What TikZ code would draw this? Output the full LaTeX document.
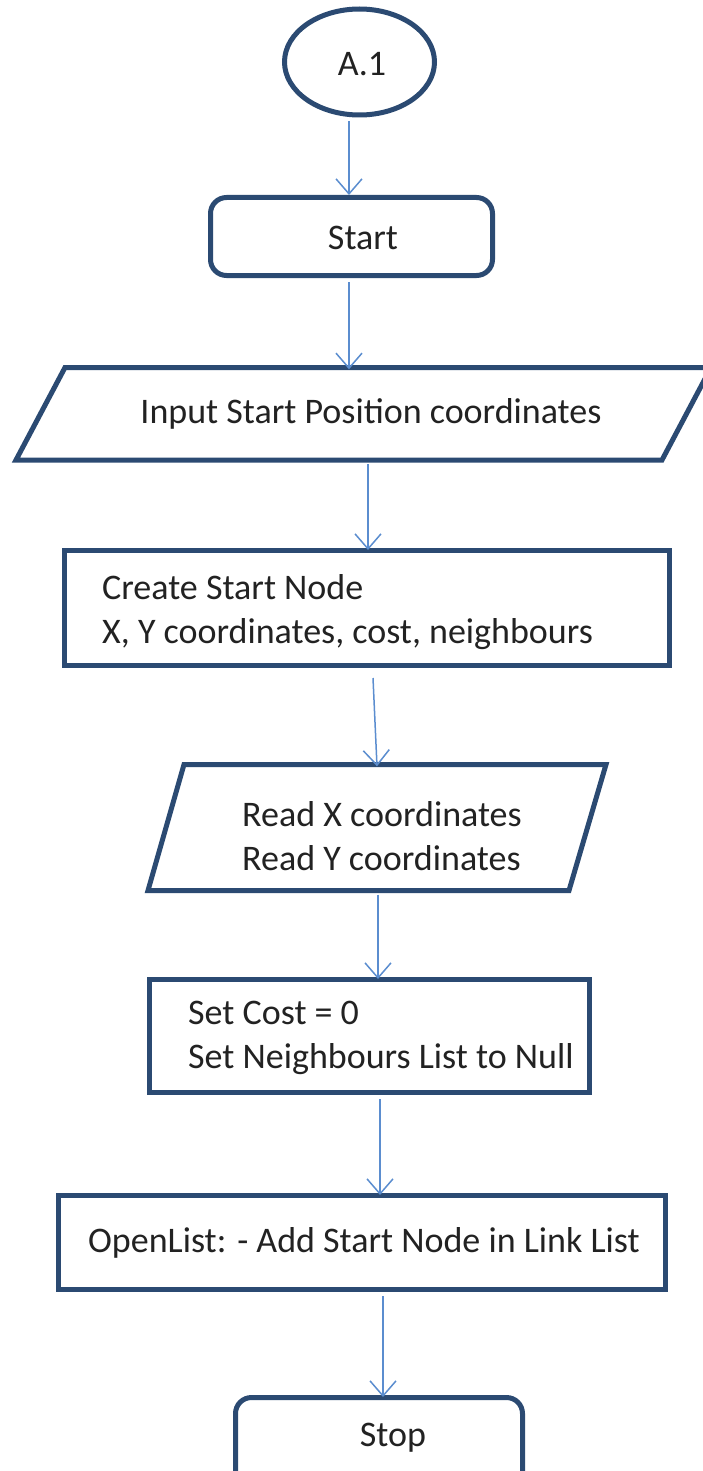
\documentclass[tikz,border=0pt]{standalone}
\usepackage{fontspec}
\setmainfont{Carlito}
\usetikzlibrary{arrows.meta,shapes.geometric}
\definecolor{navy}{HTML}{2B4A72}
\definecolor{arrowblue}{HTML}{5B8DCF}
\definecolor{txt}{HTML}{222222}
\tikzset{
  shapeline/.style={draw=navy, line width=5pt, fill=white, line join=miter},
  rectbox/.style={shapeline, rectangle, inner sep=0pt},
  roundbox/.style={rectbox, rounded corners=16pt},
  ghost/.style={rectangle, draw=none, inner sep=0pt},
  lbl/.style={font=\fontsize{36}{44}\selectfont, text=txt, inner sep=0pt, align=left},
  arr/.style={draw=arrowblue, line width=1.5pt, -{Straight Barb[length=15pt,width=26pt,line width=1.5pt]}},
}
\begin{document}
\begin{tikzpicture}[x=1pt,y=-1pt]
\useasboundingbox (0,0) rectangle (702,1471);

% A.1 ellipse
\node[shapeline, ellipse, inner sep=0pt, minimum width=150pt, minimum height=106pt] (ell) at (359.5,62) {};
\node[lbl] (tA) at (362,64) {A.1};

% Start
\node[roundbox, minimum width=282pt, minimum height=78pt] (start) at (351.5,236.5) {};
\node[lbl] (tStart) at (363,238) {Start};

% Input parallelogram
\coordinate (p1tl) at (65,367.5);
\coordinate (p1tr) at (711,367.5);
\coordinate (p1br) at (662,460);
\coordinate (p1bl) at (16,460);
\draw[shapeline] (p1tl) -- (p1tr) -- (p1br) -- (p1bl) -- cycle;
\node[ghost, minimum width=600pt, minimum height=92.5pt] (p1) at (364,413.75) {};
\node[lbl] (tInput) at (371,414) {Input Start Position coordinates};

% Create Start Node
\node[rectbox, minimum width=605pt, minimum height=115pt] (create) at (367,608) {};
\node[lbl, anchor=west] (tCreate) at (102,612) {Create Start Node\\X, Y coordinates, cost, neighbours};

% Read parallelogram
\coordinate (p2tl) at (184,764.5);
\coordinate (p2tr) at (606,764.5);
\coordinate (p2br) at (569,890.5);
\coordinate (p2bl) at (148,890.5);
\draw[shapeline] (p2tl) -- (p2tr) -- (p2br) -- (p2bl) -- cycle;
\node[ghost, minimum width=420pt, minimum height=126pt] (p2) at (377,827.5) {};
\node[lbl, anchor=west] (tRead) at (242,836) {Read X coordinates\\Read Y coordinates};

% Set Cost
\node[rectbox, minimum width=440pt, minimum height=113pt] (setc) at (369.5,1036) {};
\node[lbl, anchor=west] (tSet) at (188,1038) {Set Cost = 0\\Set Neighbours List to Null};

% OpenList
\node[rectbox, minimum width=607pt, minimum height=94pt] (open) at (362,1242.5) {};
\node[lbl] (tOpen) at (364,1243) {OpenList: - Add Start Node in Link List};

% Stop
\node[roundbox, minimum width=287pt, minimum height=100pt] (stop) at (379,1447.5) {};
\node[lbl] (tStop) at (393,1438) {Stop};

% connectors
\coordinate (c1) at (349,0);
\coordinate (c2) at (349,0);
\coordinate (c3) at (368,0);
\coordinate (c4a) at (373,0);
\coordinate (c4b) at (377,0);
\coordinate (c5) at (378,0);
\coordinate (c6) at (380,0);
\coordinate (c7) at (383,0);
\draw[arr] ([yshift=-4pt]ell.south -| c1) -- (start.north -| c1);
\draw[arr] ([yshift=-4pt]start.south -| c2) -- ([yshift=-2pt]p1.north -| c2);
\draw[arr] ([yshift=-4pt]p1.south -| c3) -- ([yshift=-2pt]create.north -| c3);
\draw[arr] ([yshift=-10pt]create.south -| c4a) -- ([yshift=-2pt]p2.north -| c4b);
\draw[arr] ([yshift=-4pt]p2.south -| c5) -- ([yshift=-2pt]setc.north -| c5);
\draw[arr] ([yshift=-4pt]setc.south -| c6) -- ([yshift=-2pt]open.north -| c6);
\draw[arr] ([yshift=-4pt]open.south -| c7) -- ([yshift=-2pt]stop.north -| c7);
\end{tikzpicture}
\end{document}
